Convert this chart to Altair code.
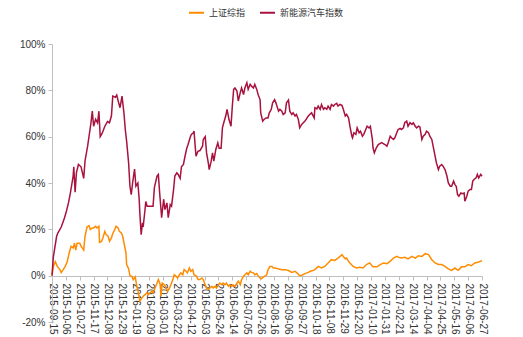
import altair as alt
import pandas as pd

start_date = "2015-09-15"
end_date = "2017-06-27"
series_names = ["上证综指", "新能源汽车指数"]
series_colors = ["#FF8C00", "#A8123E"]

# 上证综指: days since start, cumulative return (%)
sh_days = [0, 2, 5, 8, 12, 14, 17, 20, 23, 26,
           29, 32, 34, 36, 38, 42, 44, 48, 50, 53,
           56, 58, 61, 63, 66, 68, 71, 72, 75, 77,
           80, 82, 85, 87, 90, 92, 95, 97, 100, 102,
           105, 107, 110, 112, 113, 116, 118, 121, 123, 126,
           128, 131, 133, 136, 138, 141, 143, 146, 148, 151,
           153, 156, 159, 161, 164, 165, 167, 170, 172, 175,
           178, 180, 183, 185, 188, 190, 193, 195, 198, 200,
           203, 205, 208, 210, 213, 215, 219, 221, 224, 227,
           229, 232, 234, 237, 239, 242, 244, 247, 249, 252,
           254, 257, 259, 262, 264, 267, 269, 272, 274, 277,
           280, 282, 285, 287, 290, 292, 295, 297, 300, 302,
           305, 307, 310, 312, 315, 317, 320, 325, 327, 330,
           333, 335, 338, 342, 348, 353, 358, 363, 368, 372,
           375, 379, 383, 388, 391, 395, 398, 403, 408, 413,
           418, 423, 428, 433, 436, 439, 441, 444, 446, 449,
           451, 456, 461, 466, 471, 476, 481, 486, 492, 497,
           502, 507, 512, 517, 522, 524, 529, 534, 539, 545,
           550, 555, 560, 565, 570, 575, 580, 585, 590, 595,
           600, 605, 610, 615, 620, 625, 630, 635, 640, 645,
           651]
sh_vals = [0, 4, 6, 4, 2.6, 1.4, 2.6, 4, 6, 9.8,
           12.7, 12, 14, 11, 14, 14, 12.7, 11, 17, 21,
           21.6, 19.9, 20.6, 20.6, 21.3, 20.6, 21.3, 14.4, 14.8, 16.3,
           19.1, 17.7, 17, 14.8, 16.3, 18.2, 19.9, 21.3, 20.6, 19.1,
           18.4, 17, 12.7, 9.8, 4.8, 3, 0, -0.3, -1.7, -0.5,
           -3.9, -7.5, -11.1, -9.6, -8.9, -8.2, -7.5, -8.2, -7.5, -6.8,
           -7.5, -5.3, -3.2, -1.7, -3.9, -8.9, -3.2, -3.9, -4.6, -6.8,
           -5.3, -3.9, -1.7, 0.4, -0.3, -1, 0.4, 1.2, 0.4, 2.6,
           1.9, 1.2, 3.3, 1.9, 2.6, 0.4, -0.3, -1.7, -1.7, -1,
           -1.7, -3.9, -5.3, -6, -5.3, -4.6, -5.3, -4.6, -5.3, -3.9,
           -3.2, -3.9, -3.2, -3.9, -3.2, -4.6, -3.9, -4.6, -3.9, -4.6,
           -3.2, -2.4, -3.9, -1.7, -0.3, 0.4, 1.2, 0.4, 1.9, 1.4,
           1.2, 0.4, 0.9, 0, -1, -1.4, -0.6, 0.4, 2.5, 4,
           4, 3.3, 3.3, 3, 2.6, 2.6, 2.2, 1.4, 1.9, 0.9,
           0, 0.3, 0.9, 1.4, 1.9, 2.2, 2.6, 4, 3.3, 4,
           5.5, 6.9, 6.6, 7.6, 8.3, 9.1, 8.3, 7.3, 7.6, 6.2,
           5.5, 4, 3.3, 3.6, 3.3, 4.8, 5.5, 3.8, 3.8, 4.8,
           5.5, 5.2, 6.2, 7.6, 8.3, 8, 7.6, 7.9, 7.2, 8.3,
           7.6, 8.6, 8.3, 9.5, 9.1, 6.9, 5.5, 4.8, 4.8, 4,
           2.9, 2.3, 3.3, 2.3, 3.8, 3.8, 4.8, 4.3, 5.5, 5.8,
           6.5]

# 新能源汽车指数: days since start, cumulative return (%)
ev_days = [0, 2, 7, 9, 14, 19, 22, 25, 28, 32,
           33, 35, 37, 40, 44, 48, 50, 54, 59, 61,
           63, 66, 69, 71, 73, 76, 80, 84, 87, 90,
           92, 96, 98, 101, 103, 106, 109, 111, 113, 116,
           118, 120, 122, 125, 127, 130, 132, 133, 135, 137,
           138, 141, 142, 144, 148, 153, 155, 159, 161, 163,
           166, 169, 171, 174, 176, 179, 181, 184, 186, 189,
           191, 194, 196, 199, 201, 204, 206, 209, 211, 214,
           215, 218, 221, 224, 228, 229, 232, 234, 237, 238,
           241, 243, 245, 248, 251, 253, 256, 258, 260, 263,
           265, 268, 271, 273, 275, 277, 280, 282, 285, 287,
           290, 292, 295, 297, 300, 302, 305, 307, 310, 312,
           315, 316, 319, 321, 324, 327, 329, 332, 334, 337,
           339, 343, 345, 348, 350, 353, 355, 358, 360, 363,
           365, 368, 370, 373, 375, 378, 383, 388, 393, 397,
           398, 401, 403, 406, 408, 411, 413, 416, 418, 421,
           423, 426, 428, 431, 433, 436, 439, 441, 444, 446,
           449, 451, 454, 455, 457, 460, 462, 465, 467, 470,
           472, 475, 477, 480, 482, 485, 486, 488, 491, 494,
           499, 504, 507, 509, 512, 514, 517, 519, 522, 524,
           527, 529, 532, 534, 537, 539, 542, 545, 547, 550,
           552, 555, 557, 560, 562, 565, 567, 570, 572, 575,
           577, 580, 582, 585, 587, 590, 592, 595, 598, 600,
           603, 605, 608, 610, 612, 614, 616, 619, 621, 624,
           625, 628, 630, 633, 635, 637, 639, 642, 644, 646,
           649, 651]
ev_vals = [0, 8, 17, 18.5, 21, 25, 28, 31.5, 36, 43,
           47, 36, 44.5, 48, 47, 42, 49.5, 56, 66, 71,
           64.5, 67.5, 66, 71, 60, 61.5, 64.5, 66.5, 66, 69,
           77.5, 77, 78, 74.5, 72.5, 77.5, 70, 63, 58, 48.7,
           38.6, 35, 40, 46, 38.6, 40, 33, 27, 17.7, 22.8,
           21, 29, 32, 30, 30, 30, 38, 43, 43.7, 35.7,
           25, 33, 28.5, 31.4, 25, 30.7, 30, 37, 43, 44.4,
           43.7, 42, 47, 48, 51, 55, 56.6, 59.5, 61, 61.7,
           62.4, 51.6, 53.7, 54, 56, 58.8, 60, 53, 48, 45.8,
           49.4, 53, 49.4, 54.5, 57.3, 55, 55, 63.8, 66, 68.9,
           71.8, 67.4, 64.5, 73.2, 80.4, 81, 79.7, 75.4, 79, 81,
           78.2, 81, 83.3, 80.4, 82.6, 81.8, 81, 82.6, 80.4, 78.2,
           76, 70.3, 66.7, 67.4, 68.1, 68.1, 70.3, 71.8, 74.6, 76,
           74.6, 71, 71.8, 71, 69.6, 70.3, 74.6, 75.8, 71, 69.6,
           70.3, 68.9, 69.6, 67.4, 63.8, 65.3, 66.7, 68.9, 70.3, 68.1,
           72.5, 72, 73.2, 71.8, 73.9, 71.8, 72.5, 71.8, 73.2, 71.8,
           73.9, 73.2, 73.9, 74.4, 73.2, 73.9, 73.5, 71.8, 68.9, 69.6,
           68.1, 64.5, 60.2, 59.5, 61.7, 61, 63.8, 61.7, 62.4, 60.2,
           61, 63.1, 64.5, 63.8, 64.5, 58.8, 55.2, 53, 55.2, 56.6,
           57.4, 56.6, 55.9, 57.4, 60.2, 59.5, 58.8, 59.5, 61.7, 63.1,
           63.6, 63.1, 63.8, 66, 66.7, 64.5, 66, 65.3, 66, 64.5,
           63.8, 64.5, 64.2, 58.8, 60.2, 61, 62.4, 61.7, 60.2, 58.8,
           55.9, 51.6, 48.7, 45.8, 47.3, 48, 47.3, 45.8, 42.9, 40,
           38.6, 38.6, 40.8, 39.3, 38.6, 35, 34.3, 35.7, 35.4, 35.7,
           32.1, 34.3, 36.5, 37.2, 37.2, 40.8, 41.5, 42.2, 43.7, 42.2,
           43.7, 42.9]

tick_dates = ["2015-09-15", "2015-10-06", "2015-10-27", "2015-11-17", "2015-12-08",
              "2015-12-29", "2016-01-19", "2016-02-09", "2016-03-01", "2016-03-22",
              "2016-04-12", "2016-05-03", "2016-05-24", "2016-06-14", "2016-07-05",
              "2016-07-26", "2016-08-16", "2016-09-06", "2016-09-27", "2016-10-18",
              "2016-11-08", "2016-11-29", "2016-12-20", "2017-01-10", "2017-01-31",
              "2017-02-21", "2017-03-14", "2017-04-04", "2017-04-25", "2017-05-16",
              "2017-06-06", "2017-06-27"]
y_ticks = [-20, 0, 20, 40, 60, 80, 100]

base = pd.Timestamp(start_date)


def make_frame(days, vals, name):
    dates = (base + pd.to_timedelta(days, unit="D")).strftime("%Y-%m-%d")
    return pd.DataFrame({"date": list(dates), "value": vals, "series": name})


df = pd.concat([make_frame(sh_days, sh_vals, series_names[0]),
                make_frame(ev_days, ev_vals, series_names[1])], ignore_index=True)


def ms(d):
    return int(pd.Timestamp(d).value // 10**6)


tick_ms = [ms(d) for d in tick_dates]
axis_color = "#BFBFBF"
label_color = "#333333"
latin_font = "Liberation Sans"
cjk_font = "Noto Sans CJK SC"

chart = alt.Chart(df).mark_line(strokeWidth=1.5).encode(
    x=alt.X("date:T",
            scale=alt.Scale(type="utc", domain=[ms(start_date), ms(end_date)]),
            axis=alt.Axis(values=tick_ms,
                          labelExpr="utcFormat(datum.value, '%Y-%m-%d')",
                          labelAngle=90, labelAlign="left", labelBaseline="middle",
                          labelOverlap=False, labelFlush=False,
                          offset=-46, grid=False, title=None,
                          domainColor=axis_color, tickColor=axis_color, tickSize=4,
                          labelPadding=3, labelFontSize=10, labelColor=label_color,
                          labelFont=latin_font)),
    y=alt.Y("value:Q",
            scale=alt.Scale(domain=[-20, 100], nice=False, zero=False),
            axis=alt.Axis(values=y_ticks, labelExpr="datum.value + '%'",
                          grid=False, title=None,
                          domainColor=axis_color, tickColor=axis_color, tickSize=4,
                          labelPadding=3, labelFontSize=10, labelColor=label_color,
                          labelFont=latin_font)),
    color=alt.Color("series:N",
                    scale=alt.Scale(domain=series_names, range=series_colors),
                    legend=alt.Legend(orient="none", legendX=136, legendY=-40,
                                      direction="horizontal", title=None,
                                      symbolType="stroke", symbolSize=225,
                                      symbolStrokeWidth=2, labelFont=cjk_font,
                                      labelFontSize=9, labelColor=label_color,
                                      labelOffset=4, columnPadding=10)),
).properties(
    width=430, height=278,
    padding={"left": 52, "top": 44, "right": 41, "bottom": 15},
    autosize=alt.AutoSizeParams(type="none"),
    background="white",
).configure_view(stroke=None)

chart.save("out.html", embed_options={"renderer": "svg", "actions": False})
